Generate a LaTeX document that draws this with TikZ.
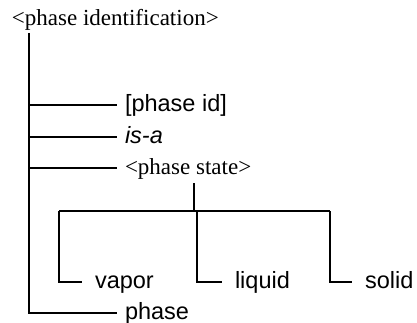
\documentclass[tikz,border=0pt]{standalone}
\usepackage{fontspec}
\setmainfont{Liberation Serif}
\setsansfont{Liberation Sans}
\begin{document}
\begin{tikzpicture}[x=1pt,y=-1pt,line width=2pt,
  every node/.style={anchor=west,inner ysep=0pt,text height=13pt,text depth=0pt},
  serif/.style={font=\fontsize{23}{27}\selectfont\rmfamily,inner xsep=7pt},
  sans/.style={font=\fontsize{23.5}{27}\selectfont\sffamily,inner xsep=7pt},
  leaf/.style={sans,inner xsep=12pt}]
  \useasboundingbox (0,0) rectangle (417,323);

  \node[serif,inner xsep=0pt,anchor=base west] (root) at (11,26) {<phase identification>};
  \coordinate (trunk) at (29,33);
  \node[sans] (pid) at (117,105) {[phase id]};
  \node[sans] (isa) at (117,137) {\itshape is-a};
  \node[serif] (pstate) at (117,168) {<phase state>};
  \node[sans] (phase) at (117,313) {phase};

  \coordinate (fork) at (194,211);
  \coordinate (v) at (59,211);
  \coordinate (l) at (197,211);
  \coordinate (s) at (330,211);
  \node[leaf] (vapor) at (82,282) {vapor};
  \node[leaf] (liquid) at (222,282) {liquid};
  \node[leaf] (solid) at (352,282) {solid};

  \draw (trunk) |- (phase.west);
  \draw (trunk |- pid.west) -- (pid.west);
  \draw (trunk |- isa.west) -- (isa.west);
  \draw (trunk |- pstate.west) -- (pstate.west);
  \draw[shorten >=7pt] (fork) -- (fork |- pstate.south);
  \draw (v) -- (s);
  \draw (v) |- (vapor.west);
  \draw (l) |- (liquid.west);
  \draw (s) |- (solid.west);
\end{tikzpicture}
\end{document}
